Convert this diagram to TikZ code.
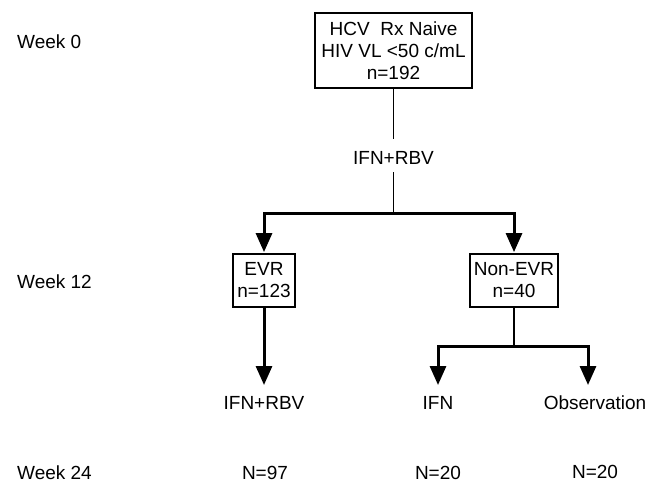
\documentclass[tikz,border=0pt]{standalone}
\usepackage{fontspec}
\setmainfont{Liberation Sans}
\usetikzlibrary{arrows.meta}
\newcommand\fsz{\fontsize{19}{22}\selectfont}
\begin{document}
\begin{tikzpicture}[x=1pt,y=-1pt,
  lbl/.style={font=\fsz, inner sep=0pt, text height=13.6pt, text depth=0pt},
  boxnode/.style={draw, line width=1.8pt, font=\fsz, align=center, inner sep=0pt},
  thinln/.style={line width=1.8pt},
  arr/.style={line width=3pt, -{Triangle[width=16pt,length=19pt]}}]
\useasboundingbox (0,0) rectangle (655,485);
% week labels
\node[lbl, anchor=west] (w0) at (17,42) {Week 0};
\node[lbl, anchor=west] (w12) at (17,282) {Week 12};
\node[lbl, anchor=west] (w24) at (17,473) {Week 24};
% boxes
\node[boxnode, minimum width=157pt, minimum height=75pt] (top) at (393.5,50.5) {HCV\ \ Rx Naive\\HIV VL <50 c/mL\\n=192};
\node[lbl] (tx) at (393.5,158) {IFN+RBV};
\coordinate (j) at (393.5,213);
\node[boxnode, minimum width=62pt, minimum height=53pt] (evr) at (264,280.5) {EVR\\n=123};
\node[boxnode, minimum width=88pt, minimum height=53pt] (nevr) at (514,280.5) {Non-EVR\\n=40};
\coordinate (j2) at (514,346);
% outcome labels
\node[lbl] (t1) at (264,403) {IFN+RBV};
\node[lbl] (t2) at (438,403) {IFN};
\node[lbl] (t3) at (595,403) {Observation};
\coordinate (a3) at (588,385);
\node[lbl] (n1) at (265,473) {N=97};
\node[lbl] (n2) at (438,473) {N=20};
\node[lbl] (n3) at (595,472) {N=20};
% connectors
\draw[thinln, shorten >=12pt] (top.south) -- (tx.north);
\draw[thinln, shorten <=7pt] (tx.south) -- (j);
\draw[arr, shorten >=1pt] (j) -| (evr.north);
\draw[arr, shorten >=1pt] (j) -| (nevr.north);
\draw[arr, shorten >=11pt] (evr.south) -- (t1.north);
\draw[thinln] (nevr.south) -- (j2);
\draw[arr, shorten >=11pt] (j2) -| (t2.north);
\draw[arr] (j2) -| (a3);
\end{tikzpicture}
\end{document}
